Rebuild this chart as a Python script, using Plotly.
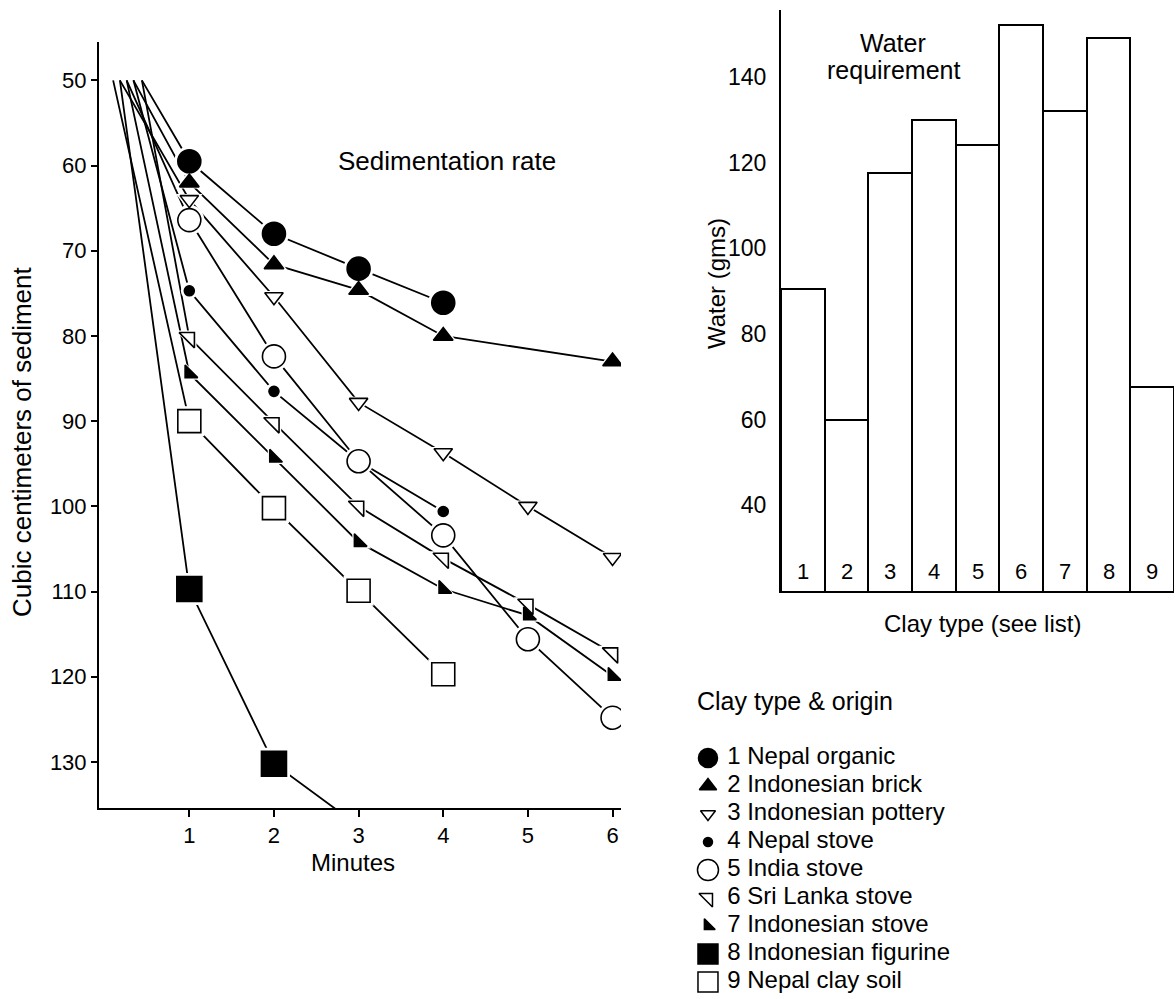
import plotly.graph_objects as go

# sedimentation readings (cc of sediment) at each minute, None = not measured
minutes = [1, 2, 3, 4, 5, 6]
start_value = 50
start_minute = [0.44, 0.34, 0.18, 0.34, 0.26, 0.44, 0.26, 0.18, 0.10]

clay_names = ["1 Nepal organic", "2 Indonesian brick", "3 Indonesian pottery",
              "4 Nepal stove", "5 India stove", "6 Sri Lanka stove",
              "7 Indonesian stove", "8 Indonesian figurine", "9 Nepal clay soil"]

nepal_organic = [59.5, 68.0, 72.1, 76.1, None, None]
indonesian_brick = [62.0, 71.6, 74.6, 80.0, None, 83.0]
indonesian_pottery = [64.0, 75.4, 87.8, 93.7, 100.0, 106.0]
nepal_stove = [74.7, 86.5, 94.7, 100.6, None, None]
india_stove = [66.4, 82.4, 94.7, 103.4, 115.6, 124.8]
sri_lanka_stove = [80.2, 90.2, 100.0, 106.1, 111.5, 117.2]
indonesian_stove = [84.4, 94.3, 104.2, 109.7, 112.8, 119.9]
indonesian_figurine = [109.7, 130.2, 137.5, None, None, None]
nepal_clay_soil = [90.0, 100.2, 109.9, 119.7, None, None]

series = [nepal_organic, indonesian_brick, indonesian_pottery, nepal_stove, india_stove,
          sri_lanka_stove, indonesian_stove, indonesian_figurine, nepal_clay_soil]

# water requirement (gms) per clay type
clay_types = ["1", "2", "3", "4", "5", "6", "7", "8", "9"]
water_gms = [90.5, 60, 117.5, 130, 124, 152, 132, 149, 67.5]

# marker styles: symbol, fill, size in plot, size in list
symbols = ["circle", "triangle-up", "triangle-down", "circle", "circle",
           "triangle-ne", "triangle-sw", "square", "square"]
fills = ["black", "black", "white", "black", "white", "white", "black", "black", "white"]
sizes = [23, 17, 16, 10, 23, 17, 14, 25, 23]
list_sizes = [19, 15, 13, 9, 21, 15, 12, 20, 20]

W, H = 1176, 999
FONT = "Liberation Sans, Arial, Helvetica, sans-serif"


def px(v):
    return v / W


def py(v):
    return 1 - v / H


fig = go.Figure()

# connecting lines first
for i, vals in enumerate(series):
    xs = [start_minute[i]] + minutes
    ys = [start_value] + vals
    fig.add_trace(go.Scatter(x=xs, y=ys, mode="lines", connectgaps=True,
                             line=dict(color="black", width=1.8),
                             xaxis="x", yaxis="y", showlegend=False, hoverinfo="skip"))

# white halos so lines stop short of the symbols
for i, vals in enumerate(series):
    fig.add_trace(go.Scatter(x=minutes, y=vals, mode="markers",
                             marker=dict(symbol=symbols[i], size=sizes[i] + 7, color="white",
                                         line=dict(width=0)),
                             xaxis="x", yaxis="y", showlegend=False, hoverinfo="skip"))

for i, vals in enumerate(series):
    fig.add_trace(go.Scatter(x=minutes, y=vals, mode="markers", name=clay_names[i],
                             marker=dict(symbol=symbols[i], size=sizes[i], color=fills[i],
                                         opacity=1, line=dict(color="black", width=1.6)),
                             xaxis="x", yaxis="y", showlegend=False))

# water requirement bars
fig.add_trace(go.Bar(x=clay_types, y=water_gms,
                     marker=dict(color="white", line=dict(color="black", width=2)),
                     xaxis="x2", yaxis="y2", showlegend=False))

# list of clay types
idx = list(range(len(clay_names)))
fig.add_trace(go.Scatter(x=[0.58] * len(idx), y=idx, mode="markers",
                         marker=dict(symbol=symbols, size=list_sizes, color=fills, opacity=1,
                                     line=dict(color="black", width=1.5)),
                         xaxis="x3", yaxis="y3", showlegend=False, hoverinfo="skip"))
fig.add_trace(go.Scatter(x=[1.2] * len(idx), y=idx, mode="text", text=clay_names,
                         textposition="middle right",
                         textfont=dict(family=FONT, size=24, color="black"),
                         xaxis="x3", yaxis="y3", showlegend=False, hoverinfo="skip"))

axis_common = dict(showgrid=False, zeroline=False, linecolor="black", linewidth=2,
                   tickcolor="black", tickwidth=1.5)

ann = []
for i, c in enumerate(clay_types):
    ann.append(dict(x=i, y=24.5, xref="x2", yref="y2", text=c, showarrow=False,
                    font=dict(family=FONT, size=22, color="black")))


def label(text, x, y, size=24, angle=0, xanchor="center"):
    return dict(x=px(x), y=py(y), xref="paper", yref="paper", text=text, showarrow=False,
                textangle=angle, xanchor=xanchor, yanchor="middle",
                font=dict(family=FONT, size=size, color="black"))


ann += [
    label("Sedimentation rate", 447, 161, 26),
    label("Water", 893, 43, 25),
    label("requirement", 893, 70, 25),
    label("Water (gms)", 716, 284, 24, -90),
    label("Clay type (see list)", 982, 623, 24),
    label("Cubic centimeters of sediment", 22, 442, 26, -90),
    label("Minutes", 353, 862, 24),
    label("Clay type &amp; origin", 695, 701, 25, xanchor="left"),
]

fig.update_layout(
    width=W, height=H,
    margin=dict(l=0, r=0, t=0, b=0),
    paper_bgcolor="white", plot_bgcolor="white",
    bargap=0,
    xaxis=dict(domain=[px(99), px(621)], range=[-0.067, 6.1], tickvals=minutes,
               ticks="outside", ticklen=7, showline=True, anchor="y",
               tickfont=dict(family=FONT, size=22, color="black"), **axis_common),
    yaxis=dict(domain=[py(808), py(42)], range=[135.4, 45.5],
               tickvals=[50, 60, 70, 80, 90, 100, 110, 120, 130],
               ticks="outside", ticklen=6, showline=True, anchor="x",
               tickfont=dict(family=FONT, size=22, color="black"), **axis_common),
    xaxis2=dict(domain=[px(781), px(1174)], range=[-0.5, 8.5], type="category",
                showticklabels=False, ticks="", showline=True, anchor="y2", **axis_common),
    yaxis2=dict(domain=[py(591), py(10)], range=[20, 155.6],
                tickvals=[40, 60, 80, 100, 120, 140], ticks="", ticklabelstandoff=8,
                showline=True, anchor="x2",
                tickfont=dict(family=FONT, size=23, color="black"), **axis_common),
    xaxis3=dict(domain=[px(690), px(1000)], range=[0, 10], visible=False, anchor="y3"),
    yaxis3=dict(domain=[py(996), py(744)], range=[8.5, -0.5], visible=False, anchor="x3"),
    annotations=ann,
)

# drop the page margin so the figure fills the window exactly
fig.write_html("out.html", config={"displayModeBar": False},
               post_script="document.body.style.margin='0';document.body.style.overflow='hidden';")
